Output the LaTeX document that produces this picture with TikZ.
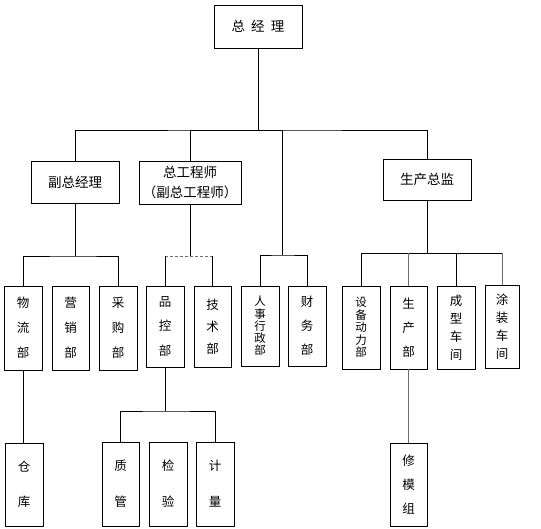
\documentclass[tikz,border=0pt]{standalone}
\usepackage{fontspec}
\setmainfont{Noto Sans CJK SC}
\usetikzlibrary{positioning}
\definecolor{orgInk}{HTML}{000000}
\definecolor{orgGray}{HTML}{6E6E6E}
\tikzset{
  every picture/.style={font=\fontsize{13.5}{20}\selectfont, text=orgInk},
  org box/.style={draw=orgInk, line width=0.9pt, fill=white, inner sep=0pt, align=center},
  org col/.style={org box, font=\fontsize{12.5}{#1}\selectfont},
  org line/.style={draw=orgInk, line width=0.9pt},
  org faint/.style={draw=orgGray, line width=0.9pt}
}

\begin{document}
\begin{tikzpicture}[x=1pt,y=-1pt]
  \useasboundingbox (0,0) rectangle (541,529);
  % top levels
  \node[org box,minimum width=88pt,minimum height=43pt] (gm) at (258,26.5) {总\hspace{0.45em}经\hspace{0.45em}理};
  \node[org box,minimum width=88pt,minimum height=42pt] (vgm) at (75,182) {副总经理};
  \node[org box,minimum width=102pt,minimum height=43pt] (ce) at (190,182.5) {总工程师\\（副总工程师）};
  \node[org box,minimum width=88pt,minimum height=41pt] (pd) at (427,179.5) {生产总监};
  % departments
  \node[org col=25,minimum width=38pt,minimum height=84pt] (logi) at (23,328) {物\\流\\部};
  \node[org col=25,minimum width=37pt,minimum height=84pt] (sales) at (70.5,328) {营\\销\\部};
  \node[org col=25,minimum width=38pt,minimum height=84pt] (purch) at (118,328) {采\\购\\部};
  \node[org col=24.5,minimum width=38pt,minimum height=81pt] (qc) at (165,326.5) {品\\控\\部};
  \node[org col=22,minimum width=37pt,minimum height=81pt] (tech) at (212.5,326.5) {技\\术\\部};
  \node[org col=12.2,font=\fontsize{11.5}{12.2}\selectfont,minimum width=38pt,minimum height=80pt] (hr) at (260,326) {人\\事\\行\\政\\部};
  \node[org col=24,minimum width=38pt,minimum height=80pt] (fin) at (307,326) {财\\务\\部};
  \node[org col=12.5,font=\fontsize{11.5}{12.5}\selectfont,minimum width=38pt,minimum height=83pt] (equip) at (361,327.5) {设\\备\\动\\力\\部};
  \node[org col=24,minimum width=37pt,minimum height=83pt] (prod) at (408.5,327.5) {生\\产\\部};
  \node[org col=18,minimum width=38pt,minimum height=83pt] (mold) at (456,327.5) {成\\型\\车\\间};
  \node[org col=18,minimum width=34pt,minimum height=83pt] (coat) at (502,326.5) {涂\\装\\车\\间};
  % sections
  \node[org col=35,minimum width=38pt,minimum height=83pt] (store) at (24,484.5) {仓\\库};
  \node[org col=36,minimum width=37pt,minimum height=84pt] (qm) at (120.5,484) {质\\管};
  \node[org col=36,minimum width=38pt,minimum height=84pt] (insp) at (168,484) {检\\验};
  \node[org col=36,minimum width=38pt,minimum height=84pt] (meas) at (215,484) {计\\量};
  \node[org col=24,minimum width=37pt,minimum height=83pt] (repair) at (408.5,484.5) {修\\模\\组};
  % bus levels
  \coordinate (top bus) at (0,130);
  \coordinate (staff bus) at (282,255);
  \coordinate (vgm bus) at (0,256);
  \coordinate (ce bus) at (0,256);
  \coordinate (pd bus) at (0,253);
  \coordinate (qc bus) at (0,411);
  % connectors
  \draw[org line] (gm.south) -- (gm.south |- top bus);
  \draw[org line] (vgm.north) |- (gm.south |- top bus) -| (pd.north);
  \draw[org line] (gm.south |- top bus) -| (ce.north);
  \draw[org line] (gm.south |- top bus) -| (staff bus);
  \draw[org line] (hr.north) |- (staff bus) -| (fin.north);
  \draw[org line] (vgm.south) -- (vgm.south |- vgm bus);
  \draw[org line] (logi.north) |- (vgm.south |- vgm bus) -| (purch.north);
  \draw[org line] (ce.south) -- (ce.south |- ce bus);
  \draw[org faint,densely dashed] (qc.north |- ce bus) -- (tech.north |- ce bus);
  \draw[org line] (qc.north) -- (qc.north |- ce bus);
  \draw[org line] (tech.north) -- (tech.north |- ce bus);
  \draw[org line] (pd.south) -- (pd.south |- pd bus);
  \draw[org line] (equip.north) |- (coat.north |- pd bus);
  \draw[org faint] (prod.north) -- (prod.north |- pd bus);
  \draw[org line] (mold.north) -- (mold.north |- pd bus);
  \draw[org faint] (coat.north) -- (coat.north |- pd bus);
  \draw[org line] (logi.south) -- (logi.south |- store.north);
  \draw[org line] (qc.south) -- (qc.south |- qc bus);
  \draw[org line] (qm.north) |- (qc.south |- qc bus) -| (meas.north);
  \draw[org faint] (prod.south) -- (repair.north);
\end{tikzpicture}
\end{document}
